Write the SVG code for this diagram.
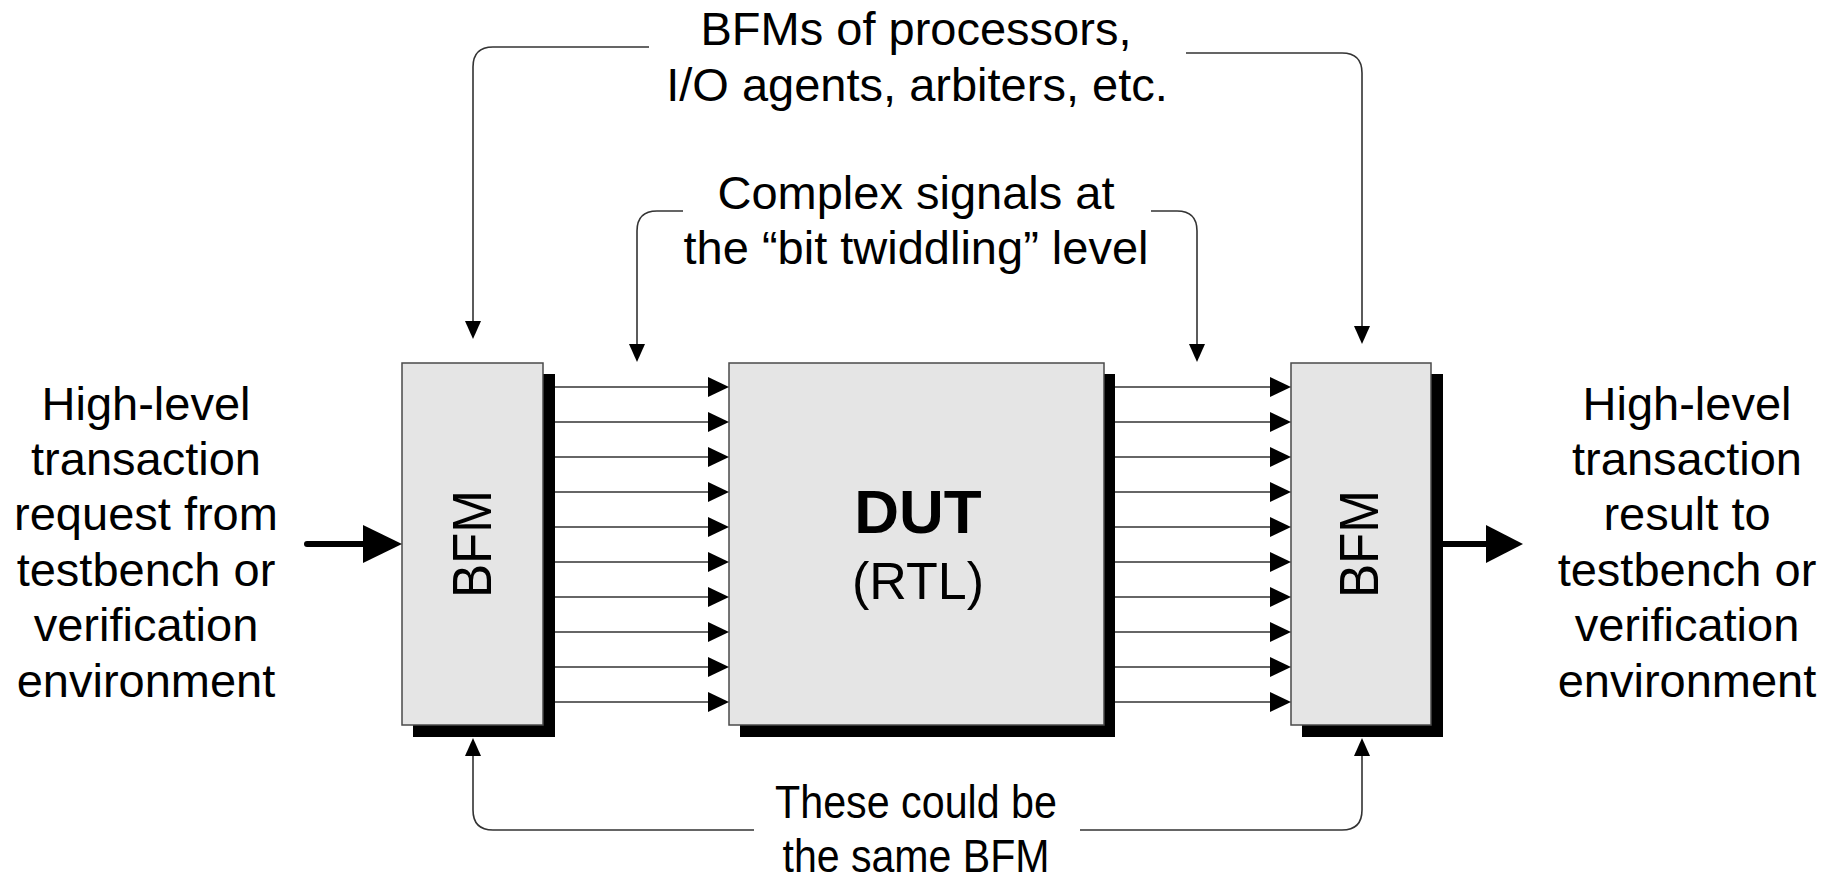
<svg xmlns="http://www.w3.org/2000/svg" width="1836" height="877" viewBox="0 0 1836 877">
  <defs>
    <style>
      .txt { font-family: "Liberation Sans", Arial, sans-serif; font-size: 47px; fill: #000; text-anchor: middle; }
      .box { fill: #e5e5e5; stroke: #4a4a4a; stroke-width: 1.5; }
      .shadow { fill: #000; }
      .thin { fill: none; stroke: #333; stroke-width: 1.6; }
      .sig { stroke: #333; stroke-width: 1.6; }
      .thick { stroke: #000; stroke-width: 6; stroke-linecap: round; }
      .head { fill: #000; }
    </style>
    <!-- small arrowhead for signal lines, tip at origin pointing right -->
    <polygon id="sigHead" points="0,0 -21,-10 -21,10"/>
    <!-- arrowhead for callout connectors, tip at origin pointing down -->
    <polygon id="calloutHead" points="0,0 -8,-18 8,-18"/>
  </defs>

  <rect width="1836" height="877" fill="#fff"/>

  <!-- left-hand label -->
  <g id="label-request">
    <text class="txt" x="146" y="420">High-level</text>
    <text class="txt" x="146" y="475">transaction</text>
    <text class="txt" x="146" y="530">request from</text>
    <text class="txt" x="146" y="586">testbench or</text>
    <text class="txt" x="146" y="641">verification</text>
    <text class="txt" x="146" y="697">environment</text>
  </g>

  <!-- right-hand label -->
  <g id="label-result">
    <text class="txt" x="1687" y="420">High-level</text>
    <text class="txt" x="1687" y="475">transaction</text>
    <text class="txt" x="1687" y="530">result to</text>
    <text class="txt" x="1687" y="586">testbench or</text>
    <text class="txt" x="1687" y="641">verification</text>
    <text class="txt" x="1687" y="697">environment</text>
  </g>

  <!-- callout texts -->
  <g id="label-bfms">
    <text class="txt" x="916" y="45">BFMs of processors,</text>
    <text class="txt" x="917" y="101">I/O agents, arbiters, etc.</text>
  </g>
  <g id="label-signals">
    <text class="txt" x="916" y="209">Complex signals at</text>
    <text class="txt" x="916" y="264">the “bit twiddling” level</text>
  </g>
  <g id="label-same">
    <text class="txt" x="916" y="818" textLength="282" lengthAdjust="spacingAndGlyphs">These could be</text>
    <text class="txt" x="916" y="872" textLength="267" lengthAdjust="spacingAndGlyphs">the same BFM</text>
  </g>

  <!-- left BFM -->
  <g id="bfm-left">
    <rect class="shadow" x="413" y="374" width="142" height="363"/>
    <rect class="box" x="402" y="363" width="141" height="362"/>
    <text class="txt" style="font-size:55px" transform="translate(470.5,544) rotate(-90)" y="20" textLength="108" lengthAdjust="spacingAndGlyphs">BFM</text>
  </g>

  <!-- DUT -->
  <g id="dut">
    <rect class="shadow" x="740" y="374" width="375" height="363"/>
    <rect class="box" x="729" y="363" width="375" height="362"/>
    <text class="txt" style="font-size:62px;font-weight:bold" x="918" y="533">DUT</text>
    <text class="txt" style="font-size:52px" x="918" y="599">(RTL)</text>
  </g>

  <!-- right BFM -->
  <g id="bfm-right">
    <rect class="shadow" x="1302" y="374" width="141" height="363"/>
    <rect class="box" x="1291" y="363" width="140" height="362"/>
    <text class="txt" style="font-size:55px" transform="translate(1358,544) rotate(-90)" y="20" textLength="108" lengthAdjust="spacingAndGlyphs">BFM</text>
  </g>

  <!-- connectors -->
  <g id="connectors">
    <!-- signal bundle: BFM -> DUT -->
    <g id="bus-in">
      <line class="sig" x1="555" y1="387" x2="712" y2="387"/><use href="#sigHead" class="head" x="729" y="387"/>
      <line class="sig" x1="555" y1="422" x2="712" y2="422"/><use href="#sigHead" class="head" x="729" y="422"/>
      <line class="sig" x1="555" y1="457" x2="712" y2="457"/><use href="#sigHead" class="head" x="729" y="457"/>
      <line class="sig" x1="555" y1="492" x2="712" y2="492"/><use href="#sigHead" class="head" x="729" y="492"/>
      <line class="sig" x1="555" y1="527" x2="712" y2="527"/><use href="#sigHead" class="head" x="729" y="527"/>
      <line class="sig" x1="555" y1="562" x2="712" y2="562"/><use href="#sigHead" class="head" x="729" y="562"/>
      <line class="sig" x1="555" y1="597" x2="712" y2="597"/><use href="#sigHead" class="head" x="729" y="597"/>
      <line class="sig" x1="555" y1="632" x2="712" y2="632"/><use href="#sigHead" class="head" x="729" y="632"/>
      <line class="sig" x1="555" y1="667" x2="712" y2="667"/><use href="#sigHead" class="head" x="729" y="667"/>
      <line class="sig" x1="555" y1="702" x2="712" y2="702"/><use href="#sigHead" class="head" x="729" y="702"/>
    </g>
    <!-- signal bundle: DUT -> BFM -->
    <g id="bus-out">
      <line class="sig" x1="1115" y1="387" x2="1274" y2="387"/><use href="#sigHead" class="head" x="1291" y="387"/>
      <line class="sig" x1="1115" y1="422" x2="1274" y2="422"/><use href="#sigHead" class="head" x="1291" y="422"/>
      <line class="sig" x1="1115" y1="457" x2="1274" y2="457"/><use href="#sigHead" class="head" x="1291" y="457"/>
      <line class="sig" x1="1115" y1="492" x2="1274" y2="492"/><use href="#sigHead" class="head" x="1291" y="492"/>
      <line class="sig" x1="1115" y1="527" x2="1274" y2="527"/><use href="#sigHead" class="head" x="1291" y="527"/>
      <line class="sig" x1="1115" y1="562" x2="1274" y2="562"/><use href="#sigHead" class="head" x="1291" y="562"/>
      <line class="sig" x1="1115" y1="597" x2="1274" y2="597"/><use href="#sigHead" class="head" x="1291" y="597"/>
      <line class="sig" x1="1115" y1="632" x2="1274" y2="632"/><use href="#sigHead" class="head" x="1291" y="632"/>
      <line class="sig" x1="1115" y1="667" x2="1274" y2="667"/><use href="#sigHead" class="head" x="1291" y="667"/>
      <line class="sig" x1="1115" y1="702" x2="1274" y2="702"/><use href="#sigHead" class="head" x="1291" y="702"/>
    </g>

    <!-- transaction in / out -->
    <line class="thick" x1="307" y1="544" x2="366" y2="544"/>
    <polygon class="head" points="402,544 363,525 363,563"/>
    <line class="thick" x1="1443" y1="544" x2="1489" y2="544"/>
    <polygon class="head" points="1523,544 1486,525 1486,563"/>

    <!-- "BFMs of processors" callouts -->
    <path class="thin" d="M649,47 H493 Q473,47 473,67 V322"/>
    <use href="#calloutHead" class="head" x="473" y="339"/>
    <path class="thin" d="M1186,53 H1342 Q1362,53 1362,73 V327"/>
    <use href="#calloutHead" class="head" x="1362" y="344"/>

    <!-- "Complex signals" callouts -->
    <path class="thin" d="M683,211 H657 Q637,211 637,231 V346"/>
    <use href="#calloutHead" class="head" x="637" y="362"/>
    <path class="thin" d="M1151,211 H1177 Q1197,211 1197,231 V346"/>
    <use href="#calloutHead" class="head" x="1197" y="362"/>

    <!-- "same BFM" callouts, pointing up -->
    <path class="thin" d="M754,830 H493 Q473,830 473,810 V754"/>
    <use href="#calloutHead" class="head" transform="translate(473,738) rotate(180)"/>
    <path class="thin" d="M1080,830 H1342 Q1362,830 1362,810 V754"/>
    <use href="#calloutHead" class="head" transform="translate(1362,738) rotate(180)"/>
  </g>
</svg>
